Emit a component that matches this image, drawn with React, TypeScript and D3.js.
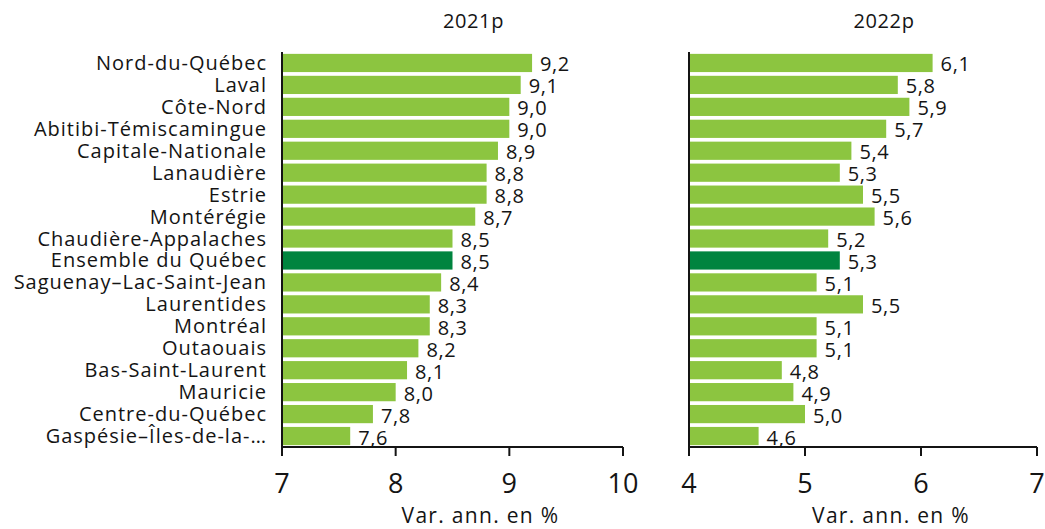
import React from "react";
import * as d3 from "d3";

const categories = [
  "Nord-du-Québec", "Laval", "Côte-Nord", "Abitibi-Témiscamingue", "Capitale-Nationale",
  "Lanaudière", "Estrie", "Montérégie", "Chaudière-Appalaches", "Ensemble du Québec",
  "Saguenay–Lac-Saint-Jean", "Laurentides", "Montréal", "Outaouais", "Bas-Saint-Laurent",
  "Mauricie", "Centre-du-Québec", "Gaspésie–Îles-de-la-…",
];
const values2021 = [9.2, 9.1, 9.0, 9.0, 8.9, 8.8, 8.8, 8.7, 8.5, 8.5, 8.4, 8.3, 8.3, 8.2, 8.1, 8.0, 7.8, 7.6];
const values2022 = [6.1, 5.8, 5.9, 5.7, 5.4, 5.3, 5.5, 5.6, 5.2, 5.3, 5.1, 5.5, 5.1, 5.1, 4.8, 4.9, 5.0, 4.6];
const ticks2021 = [7, 8, 9, 10];
const ticks2022 = [4, 5, 6, 7];
const highlight = "Ensemble du Québec";

const FONT = "'Open Sans', sans-serif";
const LIGHT = "#8cc540";
const DARK = "#00843f";
const TEXT = "#141414";

const TOP = 52;
const BOTTOM = 447;

const y = d3.scaleBand<string>().domain(categories).range([TOP, BOTTOM]).paddingInner(0.17).paddingOuter(0.085);

function Panel({ values, ticks, x0, x1, title }: { values: number[]; ticks: number[]; x0: number; x1: number; title: string }) {
  const x = d3.scaleLinear().domain([ticks[0], ticks[ticks.length - 1]]).range([x0, x1]);
  const fmt = (v: number) => v.toFixed(1).replace(".", ",");
  const mid = (x0 + x1) / 2;
  return (
    <g>
      <text x={mid + 21} y={28} textAnchor="middle" fontSize={20} fontFamily={FONT} fill={TEXT} letterSpacing={0.6}>{title}</text>
      {categories.map((c, i) => (
        <g key={c}>
          <rect x={x(ticks[0]) + 1} y={y(c)!} width={x(values[i]) - x(ticks[0]) - 1} height={y.bandwidth()} fill={c === highlight ? DARK : LIGHT} />
          <text x={x(values[i]) + 8} y={y(c)! + y.bandwidth() / 2 + 8.5} fontSize={20} fontFamily={FONT} fill={TEXT} letterSpacing={0.6}>{fmt(values[i])}</text>
        </g>
      ))}
      <line x1={x0} x2={x0} y1={TOP} y2={BOTTOM + 9} stroke={TEXT} strokeWidth={2} />
      <line x1={x0} x2={x1} y1={BOTTOM} y2={BOTTOM} stroke={TEXT} strokeWidth={2} />
      {ticks.map((t) => (
        <g key={t}>
          <line x1={x(t)} x2={x(t)} y1={BOTTOM} y2={BOTTOM + 9} stroke={TEXT} strokeWidth={2} />
          <text x={x(t)} y={493} textAnchor="middle" fontSize={27} fontFamily={FONT} fill={TEXT}>{t}</text>
        </g>
      ))}
      <text x={mid + 28} y={523} textAnchor="middle" fontSize={21} fontFamily={FONT} fill={TEXT} letterSpacing={1.3}>Var. ann. en %</text>
    </g>
  );
}

export default function App() {
  return (
    <svg width={1045} height={529} style={{ position: "absolute", left: 0, top: 0, background: "#fff" }}>
      <rect width={1045} height={529} fill="#fff" />
      {categories.map((c) => (
        <text key={c} x={267} y={y(c)! + y.bandwidth() / 2 + 7} textAnchor="end" fontSize={20} fontFamily={FONT} fill={TEXT} letterSpacing={1}>{c}</text>
      ))}
      <Panel values={values2021} ticks={ticks2021} x0={282} x1={623} title="2021p" />
      <Panel values={values2022} ticks={ticks2022} x0={689} x1={1037} title="2022p" />
    </svg>
  );
}
